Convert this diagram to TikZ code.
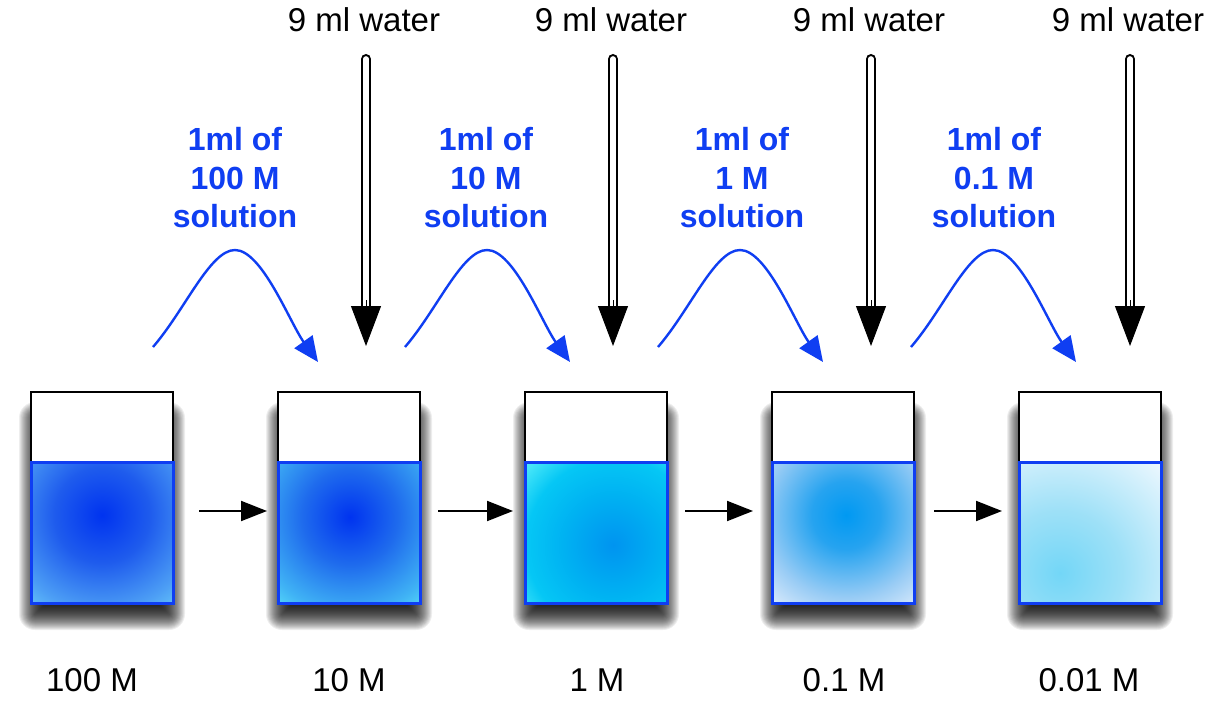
\documentclass[tikz,border=0pt]{standalone}
\usepackage{fontspec}
\setmainfont{Liberation Sans}
\usetikzlibrary{arrows.meta}
\definecolor{myblue}{RGB}{15,62,242}
\pgfdeclareradialshading{wone}{\pgfpoint{0bp}{0bp}}{rgb(0bp)=(0,0.2,0.94); rgb(10bp)=(0.12,0.36,0.93); rgb(20bp)=(0.3,0.62,0.96); rgb(25bp)=(0.4,0.78,0.98); rgb(50bp)=(0.4,0.78,0.98)}
\pgfdeclareradialshading{wtwo}{\pgfpoint{0bp}{0bp}}{rgb(0bp)=(0,0.2,0.94); rgb(10bp)=(0.12,0.42,0.93); rgb(20bp)=(0.25,0.7,0.96); rgb(25bp)=(0.35,0.88,0.98); rgb(50bp)=(0.35,0.88,0.98)}
\pgfdeclareradialshading{wthree}{\pgfpoint{0bp}{0bp}}{rgb(0bp)=(0,0.58,0.94); rgb(10bp)=(0,0.7,0.95); rgb(17bp)=(0.02,0.78,0.96); rgb(25bp)=(0.4,0.96,0.98); rgb(50bp)=(0.4,0.96,0.98)}
\pgfdeclareradialshading{wfour}{\pgfpoint{0bp}{0bp}}{rgb(0bp)=(0,0.6,0.95); rgb(7bp)=(0.15,0.64,0.94); rgb(17bp)=(0.6,0.8,0.96); rgb(25bp)=(0.9,0.94,0.99); rgb(50bp)=(0.9,0.94,0.99)}
\pgfdeclareradialshading{wfive}{\pgfpoint{0bp}{0bp}}{rgb(0bp)=(0.45,0.84,0.97); rgb(10bp)=(0.62,0.88,0.97); rgb(25bp)=(0.96,0.98,1); rgb(50bp)=(0.96,0.98,1)}
\begin{document}
\begin{tikzpicture}[x=1pt,y=-1pt,
  beaker/.style={draw=black, line width=2.5pt, fill=white, minimum width=142pt,
    minimum height=211pt, inner sep=0pt, outer sep=0pt},
  shadowlayer/.style={fill=black, fill opacity=0.065, draw=none},
  water/.style={draw=myblue, line width=3pt},
  conc/.style={font=\fontsize{33}{38}\selectfont, anchor=base},
  watertxt/.style={font=\fontsize{33}{38}\selectfont, anchor=base},
  bluetxt/.style={font=\bfseries\fontsize{32}{38.5}\selectfont, text=myblue, align=center, anchor=base},
  smallarrow/.style={line width=2pt, -{Triangle[length=26pt,width=20pt]}},
  bluecurve/.style={draw=myblue, line width=2.4pt, -{Triangle[length=25pt,width=22pt]}},
  hollowshaft/.style={line width=2.2pt, double=white, double distance=5.6pt, line cap=round},
  hollowhead/.style={line width=1pt, -{Triangle[length=40pt,width=30pt]}}
]
\fill[white] (0,0) rectangle (1225,703);
\useasboundingbox (0,0) rectangle (1225,703);

% drop shadows (soft, offset downwards)
\foreach \x in {102, 349, 596, 843, 1090}
  \foreach \e in {14,13,...,-14}
    \fill[shadowlayer, rounded corners={max(\e+2,1)*1pt}]
      (\x-69-\e, 416-\e) rectangle (\x+69+\e, 616+\e);

% beakers
\foreach \i/\x in {1/102, 2/349, 3/596, 4/843, 5/1090}
  \node[beaker] (b\i) at (\x,497.5) {};

% water
\foreach \i/\sh/\cx/\cy/\r in {1/wone/102/515/120, 2/wtwo/350/517/120, 3/wthree/613/545/128, 4/wfour/846/515/122, 5/wfive/1060/573/158} {
  \begin{scope}
    \clip ([yshift=141pt]b\i.south west) rectangle (b\i.south east);
    \shade[shading=\sh] (\cx,\cy) circle (\r);
  \end{scope}
  \draw[water] ([yshift=141pt]b\i.south west) rectangle (b\i.south east);
}

% small arrows between beakers
\foreach \a/\b/\s/\e in {1/2/26/11, 2/3/18/12, 3/4/18/19, 4/5/20/17}
  \draw[smallarrow] ([xshift=\s pt, yshift=-13.5pt]b\a.east) -- ([xshift=-\e pt, yshift=-13.5pt]b\b.west);

% water labels and hollow arrows
\foreach \i/\x/\t in {1/366/364, 2/613/611, 3/871/869, 4/1130/1128} {
  \node[watertxt] (w\i) at (\t,32) {9 ml water};
  \coordinate (ht\i) at (\x,59);
  \coordinate (hb\i) at (\x,310);
  \coordinate (hm\i) at (\x,300);
  \coordinate (hp\i) at (\x,346);
  \draw[hollowshaft] (ht\i) -- (hb\i);
  \draw[hollowhead] (hm\i) -- (hp\i);
}

% blue labels (base = last line)
\node[bluetxt] (l1) at (235,228) {1ml of\\100 M\\solution};
\node[bluetxt] (l2) at (486,228) {1ml of\\10 M\\solution};
\node[bluetxt] (l3) at (742,228) {1ml of\\1 M\\solution};
\node[bluetxt] (l4) at (994,228) {1ml of\\0.1 M\\solution};

% blue curved arrows
\foreach \i/\x in {1/153, 2/405, 3/658, 4/911} {
  \coordinate (cs\i) at (\x,347);
  \coordinate (cp\i) at (\x+82,250);
  \coordinate (ct\i) at (\x+165,362);
  \draw[bluecurve] (cs\i) .. controls +(32,-37) and +(-25,0) .. (cp\i)
                          .. controls +(27,0) and +(-28,-39) .. (ct\i);
}

% concentration labels
\node[conc] (c1) at (92,691) {100 M};
\node[conc] (c2) at (349,691) {10 M};
\node[conc] (c3) at (597,691) {1 M};
\node[conc] (c4) at (844,691) {0.1 M};
\node[conc] (c5) at (1089,691) {0.01 M};
\end{tikzpicture}
\end{document}
